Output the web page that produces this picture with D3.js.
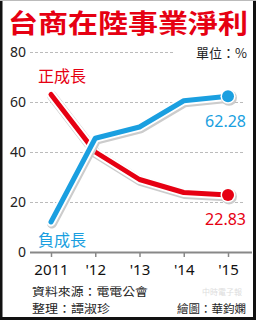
<!DOCTYPE html>
<html lang="zh-Hant">
<head>
<meta charset="UTF-8">
<title>台商在陸事業淨利</title>
<style>
  body { margin: 0; background: #fff; }
  svg { display: block; font-family: "Noto Sans CJK TC", "Noto Sans", sans-serif; }
</style>
</head>
<body>
<div id="chart"></div>
<script src="https://d3js.org/d3.v7.min.js"></script>
<script>
// 資料
const years = ["2011", "'12", "'13", "'14", "'15"];
const positiveGrowth = [63, 40, 29, 23.8, 22.83];   // 正成長
const negativeGrowth = [12, 45.5, 50, 60.5, 62.28]; // 負成長
const yTicks = [0, 20, 40, 60, 80];

const W = 256, H = 320;
const svg = d3.select("#chart").append("svg")
  .attr("width", W).attr("height", H);

// 外框
svg.append("rect").attr("x", 0).attr("y", 0).attr("width", W).attr("height", H).attr("fill", "#fff");
svg.append("path").attr("d", `M1,0 V${H - 1.5} H${W - 1.5} V0`)
  .attr("fill", "none").attr("stroke", "#111").attr("stroke-width", 3);
svg.append("line").attr("x1", 0).attr("x2", W).attr("y1", 0.5).attr("y2", 0.5)
  .attr("stroke", "#bbb");

// 標題
svg.append("text").attr("x", 8).attr("y", 33)
  .attr("fill", "#e60012").attr("font-size", 26).attr("font-weight", "bold")
  .attr("textLength", 240).attr("lengthAdjust", "spacingAndGlyphs")
  .text("台商在陸事業淨利");

svg.append("text").attr("x", 247).attr("y", 58).attr("text-anchor", "end")
  .attr("font-size", 13).attr("fill", "#222").text("單位：%");

const x = d3.scalePoint().domain(years).range([51, 228]);
const y = d3.scaleLinear().domain([0, 80]).range([252, 52]);

// 格線
svg.append("g").selectAll("line").data(yTicks.filter(d => d > 0)).enter().append("line")
  .attr("x1", 30).attr("x2", d => d === 80 ? 175 : 245)
  .attr("y1", d => y(d) + 0.5).attr("y2", d => y(d) + 0.5)
  .attr("stroke", "#bbb").attr("stroke-dasharray", "3,2");

svg.append("g").selectAll("text").data(yTicks).enter().append("text")
  .attr("x", 26).attr("y", d => y(d) + 5).attr("text-anchor", "end")
  .attr("font-size", 14).attr("fill", "#222").attr("font-family", "Noto Sans, sans-serif")
  .text(d => d);

// X 軸
const xAxis = svg.append("g").attr("transform", `translate(0,${y(0)})`)
  .call(d3.axisBottom(x).tickSize(5).tickPadding(7).tickSizeOuter(0));
xAxis.select(".domain").attr("d", "M30,0.5H252").attr("stroke", "#888").attr("stroke-width", 2);
xAxis.selectAll(".tick line").attr("stroke", "#888").attr("stroke-width", 1.5);
xAxis.selectAll(".tick text").attr("font-size", 15).attr("fill", "#111")
  .attr("font-family", "Noto Sans, sans-serif");

const line = d3.line().x((d, i) => x(years[i])).y(d => y(d)).curve(d3.curveLinear);

function drawSeries(values, color) {
  const g = svg.append("g");
  g.append("path").attr("d", line(values)).attr("fill", "none")
    .attr("stroke", "#ccc").attr("stroke-width", 10).attr("stroke-linecap", "round")
    .attr("stroke-linejoin", "round").attr("transform", "translate(1,1.5)");
  g.append("path").attr("d", line(values)).attr("fill", "none")
    .attr("stroke", "#fff").attr("stroke-width", 9).attr("stroke-linecap", "round")
    .attr("stroke-linejoin", "round");
  g.append("path").attr("d", line(values)).attr("fill", "none")
    .attr("stroke", color).attr("stroke-width", 5).attr("stroke-linecap", "round")
    .attr("stroke-linejoin", "round");
  const last = values.length - 1;
  g.append("circle").attr("cx", x(years[last]) + 1).attr("cy", y(values[last]) + 1.5)
    .attr("r", 8).attr("fill", "#ccc");
  g.append("circle").attr("cx", x(years[last])).attr("cy", y(values[last]))
    .attr("r", 7.5).attr("fill", "#fff");
  g.append("circle").attr("cx", x(years[last])).attr("cy", y(values[last]))
    .attr("r", 6).attr("fill", color);
}

const red = "#e60012", blue = "#1a9fe0";
drawSeries(positiveGrowth, red);
drawSeries(negativeGrowth, blue);

// 標籤
svg.append("text").attr("x", 38).attr("y", 82).attr("fill", red).attr("font-size", 16).text("正成長");
svg.append("text").attr("x", 38).attr("y", 246).attr("fill", blue).attr("font-size", 16).text("負成長");
svg.append("text").attr("x", 246).attr("y", 127).attr("text-anchor", "end")
  .attr("fill", blue).attr("font-size", 16).attr("font-family", "Noto Sans, sans-serif")
  .text(negativeGrowth[4].toFixed(2));
svg.append("text").attr("x", 246).attr("y", 225).attr("text-anchor", "end")
  .attr("fill", red).attr("font-size", 16).attr("font-family", "Noto Sans, sans-serif")
  .text(positiveGrowth[4].toFixed(2));

// 資料來源
svg.append("text").attr("x", 32).attr("y", 296).attr("font-size", 11.5).attr("fill", "#222")
  .attr("textLength", 116).attr("lengthAdjust", "spacingAndGlyphs")
  .text("資料來源：電電公會");
svg.append("text").attr("x", 32).attr("y", 313).attr("font-size", 11.5).attr("fill", "#222")
  .attr("textLength", 78).attr("lengthAdjust", "spacingAndGlyphs")
  .text("整理：譚淑珍");
svg.append("text").attr("x", 246).attr("y", 313).attr("text-anchor", "end")
  .attr("font-size", 11.5).attr("fill", "#222").text("繪圖：華鈞嫻");
svg.append("text").attr("x", 242).attr("y", 295).attr("text-anchor", "end")
  .attr("font-size", 8).attr("fill", "#ddd").text("中時電子報");
</script>
</body>
</html>
